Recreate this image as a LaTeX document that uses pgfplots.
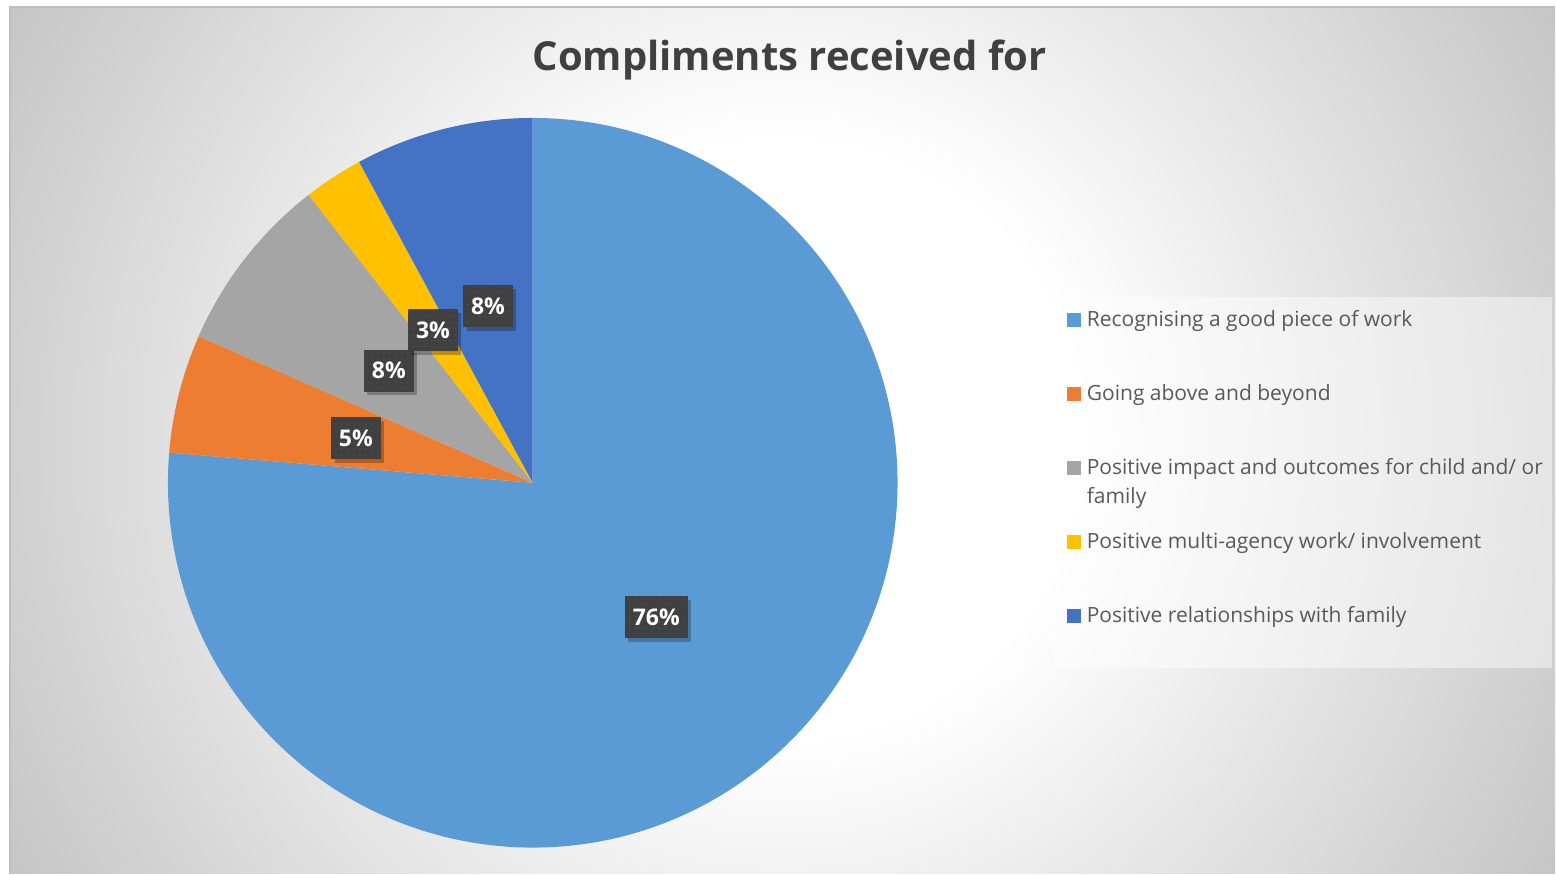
\documentclass[border=0pt]{standalone}
\usepackage{pgfplots}
\pgfplotsset{compat=1.18}
\usepackage{pgfplotstable}
\usetikzlibrary{patterns,shadows}
\usepackage{fontspec}
\setmainfont{Open Sans}

\definecolor{cBlue}{HTML}{5B9BD5}
\definecolor{cOrange}{HTML}{ED7D31}
\definecolor{cGray}{HTML}{A5A5A5}
\definecolor{cGold}{HTML}{FFC000}
\definecolor{cDBlue}{HTML}{4472C4}
\definecolor{titlegray}{HTML}{404040}
\definecolor{textgray}{HTML}{595959}
\definecolor{bgedge}{HTML}{C4C4C4}
\definecolor{lblbox}{HTML}{404040}
\definecolor{lbldot}{HTML}{4E4E4E}

% path bbox maps to +-25bp
\pgfdeclareradialshading{chartbg}{\pgfpoint{0bp}{0bp}}{color(0bp)=(white); color(7.5bp)=(white); color(22.5bp)=(bgedge); color(50bp)=(bgedge)}

% counts per category (share of compliments)
\pgfplotstableread[col sep=comma]{
label,count,color
Recognising a good piece of work,29,cBlue
Going above and beyond,2,cOrange
Positive impact and outcomes for child and/ or family,3,cGray
Positive multi-agency work/ involvement,1,cGold
Positive relationships with family,3,cDBlue
}\piedata

\begin{document}
\begin{tikzpicture}
\begin{axis}[
  scale only axis,
  width=778pt, height=437pt,
  xmin=0, xmax=1556, ymin=0, ymax=874,
  y dir=reverse,
  hide axis,
  clip=false]
\pgfplotsextra{%
  % background
  \fill[white] (axis cs:0,0) rectangle (axis cs:1556,874);
  \begin{scope}
    \clip (axis cs:10,7) rectangle (axis cs:1556,874);
    \shade[shading=chartbg] (axis cs:783,440) circle[radius=500pt];
  \end{scope}
  \draw[black!25, line width=0.8pt] (axis cs:10,874) -- (axis cs:10,7) -- (axis cs:1556,7);
  % title
  \node[anchor=base, text=titlegray, font=\bfseries\fontsize{20}{24}\selectfont]
    at (axis cs:790,71) {Compliments received for};
  % total
  \xdef\total{0}
  \foreach \i in {0,...,4}{%
    \pgfplotstablegetelem{\i}{count}\of\piedata
    \pgfmathsetmacro\newtot{\total+\pgfplotsretval}
    \xdef\total{\newtot}
  }
  % slices
  \xdef\cum{0}
  \foreach \i in {0,...,4}{%
    \pgfplotstablegetelem{\i}{count}\of\piedata \let\val\pgfplotsretval
    \pgfplotstablegetelem{\i}{color}\of\piedata \let\col\pgfplotsretval
    \pgfmathsetmacro\a{90-360*\cum/\total}
    \pgfmathsetmacro\b{90-360*(\cum+\val)/\total}
    \fill[color=\col] (axis cs:533,483) -- ++(\a:182.5pt)
      arc[start angle=\a, end angle=\b, radius=182.5pt] -- cycle;
    \pgfmathsetmacro\newcum{\cum+\val}
    \xdef\cum{\newcum}
  }
  % data labels
  \xdef\cum{0}
  \foreach \i in {0,...,4}{%
    \pgfplotstablegetelem{\i}{count}\of\piedata \let\val\pgfplotsretval
    \pgfmathsetmacro\a{90-360*\cum/\total}
    \pgfmathsetmacro\b{90-360*(\cum+\val)/\total}
    \pgfmathsetmacro\m{(\a+\b)/2}
    \pgfmathtruncatemacro\pct{round(100*\val/\total)}
    \path (axis cs:533,483) ++(\m:91.25pt) node[
      fill=lblbox, text=white, inner xsep=4pt, minimum height=21pt,
      font=\bfseries\fontsize{11.5}{13}\selectfont,
      drop shadow={shadow xshift=1.8pt, shadow yshift=-1.8pt, opacity=0.25, fill=black},
      postaction={pattern=dots, pattern color=lbldot}] {\pct\%};
    \pgfmathsetmacro\newcum{\cum+\val}
    \xdef\cum{\newcum}
  }
  % legend
  \fill[white, opacity=0.45] (axis cs:1055,297) rectangle (axis cs:1553,668);
  \foreach \i in {0,...,4}{%
    \pgfplotstablegetelem{\i}{color}\of\piedata \let\col\pgfplotsretval
    \pgfplotstablegetelem{\i}{label}\of\piedata \let\lab\pgfplotsretval
    \pgfmathsetmacro\ytop{313+74*\i}
    \pgfmathsetmacro\ybot{327+74*\i}
    \pgfmathsetmacro\ybase{327+74*\i}
    \fill[color=\col] (axis cs:1068,\ytop) rectangle (axis cs:1082,\ybot);
    \node[anchor=base west, inner sep=0pt, text=textgray,
      font=\fontsize{10.5}{14.5}\selectfont]
      at (axis cs:1087,\ybase) {\parbox[t]{232pt}{\raggedright\lab}};
  }
}
\end{axis}
\end{tikzpicture}
\end{document}
